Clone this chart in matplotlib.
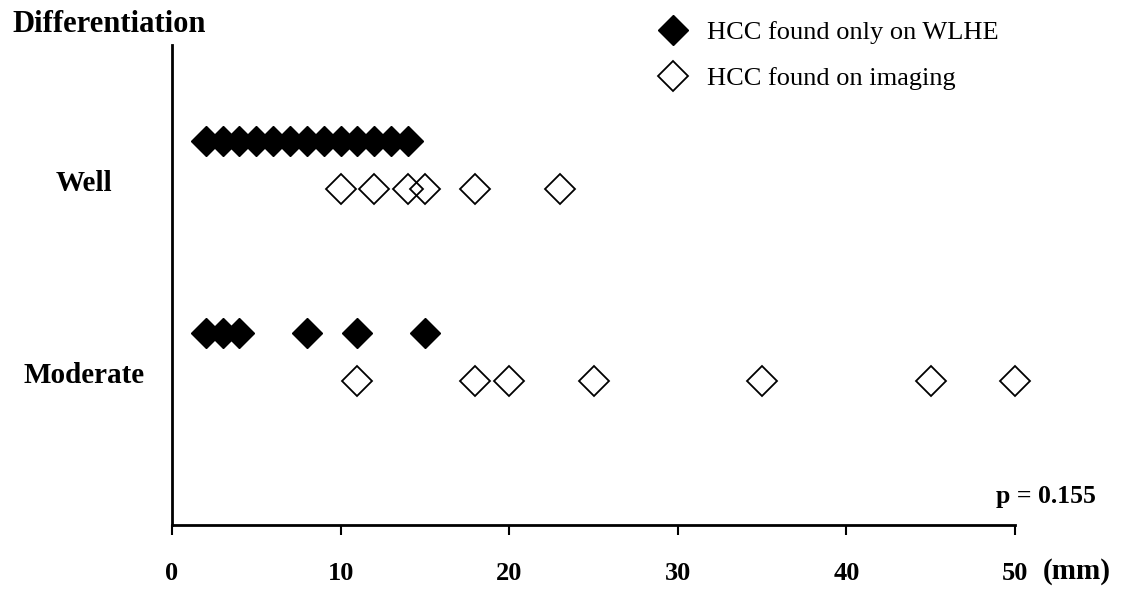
import matplotlib
matplotlib.use("Agg")
import matplotlib.pyplot as plt
from matplotlib.transforms import blended_transform_factory

plt.rcParams['font.family'] = ['Liberation Serif', 'DejaVu Serif']

# tumour sizes (mm) by differentiation grade
well_wlhe = [2, 3, 4, 5, 6, 7, 8, 9, 10, 11, 12, 13, 14]
well_imaging = [10, 12, 14, 15, 18, 23]
moderate_wlhe = [2, 3, 4, 8, 11, 15]
moderate_imaging = [11, 18, 20, 25, 35, 45, 50]

row_names = ['Well', 'Moderate']
row_pos = [2, 1]
x_ticks = [0, 10, 20, 30, 40, 50]
label_wlhe = 'HCC found only on WLHE'
label_imaging = 'HCC found on imaging'
p_text = 'p = 0.155'

W, H = 1129, 592
fig = plt.figure(figsize=(W / 100, H / 100), dpi=100)
ax = fig.add_axes([172 / W, 67 / H, (1015 - 172) / W, (525 - 45) / H])

off = 0.125
ms = 15
filled = dict(marker='D', linestyle='none', ms=ms, color='black', clip_on=False)
hollow = dict(marker='D', linestyle='none', ms=ms, mfc='none', mec='black',
              mew=1.3, clip_on=False)

h1, = ax.plot(well_wlhe, [row_pos[0] + off] * len(well_wlhe), **filled)
h2, = ax.plot(well_imaging, [row_pos[0] - off] * len(well_imaging), **hollow)
ax.plot(moderate_wlhe, [row_pos[1] + off] * len(moderate_wlhe), **filled)
ax.plot(moderate_imaging, [row_pos[1] - off] * len(moderate_imaging), **hollow)

ax.set_xlim(0, 50)
ax.set_ylim(0.125, 2.625)

for s in ['top', 'right']:
    ax.spines[s].set_visible(False)
for s in ['left', 'bottom']:
    ax.spines[s].set_linewidth(2)

ax.set_yticks([])
ax.set_xticks(x_ticks)
ax.set_xticklabels([str(t) for t in x_ticks], fontsize=19, fontweight='bold')
ax.tick_params(axis='x', direction='out', length=7, width=1.5, pad=20)

# row labels, centred left of the y axis
row_tr = blended_transform_factory(fig.transFigure, ax.transData)
for name, y in zip(row_names, row_pos):
    ax.text(84 / W, y - 0.135, name, transform=row_tr,
            ha='center', va='baseline', fontsize=21, fontweight='bold')

fig.text(12 / W, 1 - 32 / H, 'Differentiation', ha='left', va='baseline',
         fontsize=22, fontweight='bold')
fig.text(1043 / W, 1 - 579 / H, '(mm)', ha='left', va='baseline',
         fontsize=21, fontweight='bold')
fig.text(1096 / W, 1 - 503 / H, p_text, ha='right', va='baseline',
         fontsize=18.5, fontweight='bold')

ax.legend([h1, h2], [label_wlhe, label_imaging], loc='upper left',
          bbox_to_anchor=(658 / W, 1 - 21 / H), bbox_transform=fig.transFigure,
          frameon=False, prop={'size': 19}, handlelength=1.1, handletextpad=0.75,
          labelspacing=0.85, borderpad=0, borderaxespad=0, numpoints=1)

fig.savefig('out.png', dpi=100)
